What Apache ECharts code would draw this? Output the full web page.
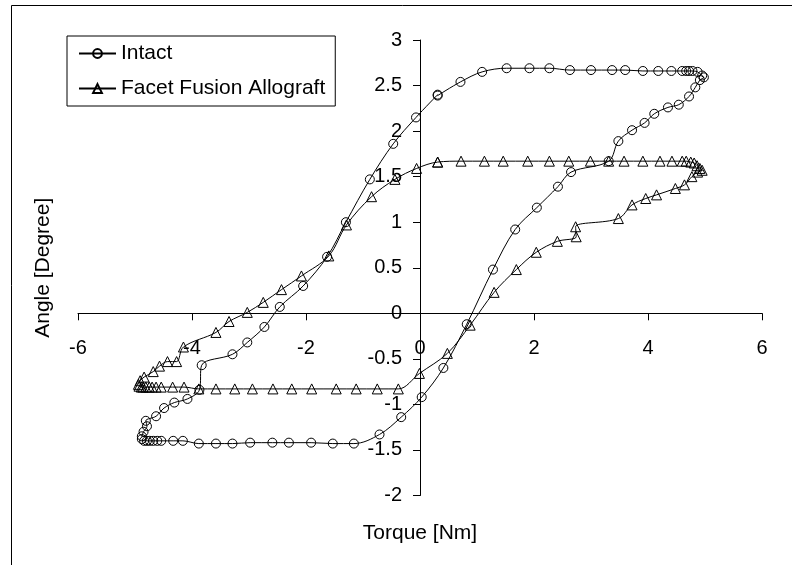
<!DOCTYPE html>
<html>
<head>
<meta charset="utf-8">
<script src="https://cdn.jsdelivr.net/npm/echarts@6/dist/echarts.min.js"></script>
<style>
  html, body { margin: 0; padding: 0; background: #fff; }
  #chart { width: 792px; height: 565px; }
</style>
</head>
<body>
<div id="chart"></div>
<script>
// Intact loop
const intactTorque = [
  -4.88, -4.84, -4.79, -4.74, -4.68, -4.61, -4.54, -4.33, -4.16, -3.88,
  -3.58, -3.29, -2.98, -2.59, -2.30, -1.91, -1.53, -1.16, -0.71, -0.33,
  0.03, 0.41, 0.82, 1.28, 1.67, 2.05, 2.42, 2.65, 3.31, 3.48,
  3.72, 3.94, 4.11, 4.35, 4.54, 4.72, 4.83, 4.91, 4.98, 4.95,
  4.87, 4.78, 4.72, 4.67, 4.60, 4.41, 4.18, 3.91, 3.60, 3.37,
  3.00, 2.63, 2.27, 1.92, 1.52, 1.09, 0.71, 0.31, 0.31, -0.07,
  -0.47, -0.88, -1.30, -1.63, -2.05, -2.46, -2.73, -3.03, -3.29, -3.83,
  -3.87, -4.08, -4.31, -4.49, -4.63, -4.81, -4.79, -4.85, -4.88
];
const intactAngle = [
  -1.38, -1.40, -1.40, -1.40, -1.40, -1.40, -1.40, -1.40, -1.40, -1.43,
  -1.43, -1.43, -1.42, -1.42, -1.42, -1.42, -1.43, -1.43, -1.33, -1.14,
  -0.92, -0.60, -0.12, 0.48, 0.92, 1.16, 1.39, 1.55, 1.67, 1.89,
  2.01, 2.09, 2.19, 2.26, 2.29, 2.38, 2.48, 2.56, 2.59, 2.61,
  2.65, 2.66, 2.66, 2.66, 2.66, 2.66, 2.66, 2.66, 2.67, 2.67,
  2.67, 2.67, 2.69, 2.69, 2.69, 2.65, 2.54, 2.39, 2.40, 2.15,
  1.86, 1.47, 1.00, 0.62, 0.30, 0.07, -0.15, -0.32, -0.45, -0.57,
  -0.84, -0.94, -0.98, -1.04, -1.13, -1.18, -1.24, -1.30, -1.35
];

// Facet Fusion Allograft loop
const fusionTorque = [
  -4.93, -4.89, -4.86, -4.81, -4.75, -4.70, -4.63, -4.54, -4.34, -4.14,
  -3.88, -3.58, -3.25, -2.94, -2.58, -2.25, -1.90, -1.47, -1.12, -0.75,
  -0.38, -0.01, 0.48, 0.88, 1.30, 1.69, 2.04, 2.41, 2.74, 2.73,
  3.48, 3.72, 3.96, 4.15, 4.48, 4.64, 4.77, 4.87, 4.95, 4.91,
  4.86, 4.81, 4.75, 4.67, 4.60, 4.42, 4.21, 3.91, 3.58, 3.31,
  2.99, 2.61, 2.27, 1.89, 1.46, 1.13, 0.72, 0.31, 0.31, -0.06,
  -0.44, -0.85, -1.29, -1.60, -2.08, -2.43, -2.75, -3.03, -3.35, -3.58,
  -4.15, -4.27, -4.43, -4.57, -4.68, -4.84, -4.91, -4.94
];
const fusionAngle = [
  -0.80, -0.81, -0.81, -0.81, -0.81, -0.81, -0.81, -0.81, -0.81, -0.81,
  -0.83, -0.83, -0.83, -0.83, -0.83, -0.83, -0.83, -0.83, -0.83, -0.83,
  -0.83, -0.66, -0.44, -0.13, 0.23, 0.48, 0.67, 0.79, 0.84, 0.95,
  1.04, 1.19, 1.26, 1.30, 1.37, 1.41, 1.50, 1.55, 1.57, 1.59,
  1.62, 1.65, 1.66, 1.67, 1.67, 1.67, 1.67, 1.67, 1.67, 1.67,
  1.67, 1.67, 1.67, 1.67, 1.67, 1.67, 1.67, 1.66, 1.66, 1.59,
  1.47, 1.28, 0.97, 0.63, 0.41, 0.26, 0.12, 0.01, -0.09, -0.21,
  -0.37, -0.53, -0.53, -0.58, -0.64, -0.70, -0.74, -0.78
];

const seriesNames = ["Intact", "Facet Fusion Allograft"];
const xTicks = { min: -6, max: 6, step: 2 };
const yTicks = { min: -2, max: 3, step: 0.5 };

const zip = (xs, ys) => xs.map((x, i) => [x, ys[i]]);

const FONT = "'Liberation Sans', Arial, sans-serif";

// plot box in pixels; the axes cross at (0, 0) inside it
const GRID = { left: 78, right: 30, top: 40, bottom: 69.5 };
const W = 792, H = 565;
const plotW = W - GRID.left - GRID.right;
const plotH = H - GRID.top - GRID.bottom;
// distance from grid edge to the zero line of the other axis
const xAxisShift = plotH * (0 - yTicks.min) / (yTicks.max - yTicks.min);
const yAxisShift = plotW * (0 - xTicks.min) / (xTicks.max - xTicks.min);

const chart = echarts.init(document.getElementById("chart"), null, {
  renderer: "canvas",
});

const lineSeries = (name, data, symbol, size) => ({
  type: "line",
  name: name,
  data: data,
  smooth: 0.35,
  symbol: symbol,
  symbolSize: size,
  showAllSymbol: true,
  lineStyle: { color: "#000", width: 1 },
  itemStyle: { color: "rgba(0,0,0,0)", borderColor: "#000", borderWidth: 1 },
  emphasis: { disabled: true },
});

chart.setOption({
  animation: false,
  backgroundColor: "#fff",
  textStyle: { fontFamily: FONT },
  graphic: [
    {
      type: "rect",
      shape: { x: 11.5, y: 5.5, width: 800, height: 600 },
      style: { fill: "none", stroke: "#000", lineWidth: 1 },
      silent: true,
    },
  ],
  grid: {
    left: GRID.left,
    right: GRID.right,
    top: GRID.top,
    bottom: GRID.bottom,
    containLabel: false,
    outerBoundsMode: "none",
  },
  legend: {
    data: seriesNames,
    orient: "vertical",
    left: 67,
    top: 36,
    itemWidth: 37,
    itemHeight: 11,
    itemGap: 14,
    padding: [7, 10, 7, 11],
    borderColor: "#000",
    borderWidth: 1,
    textStyle: { fontSize: 21, color: "#000", fontFamily: FONT },
  },
  xAxis: {
    type: "value",
    position: "bottom",
    offset: -xAxisShift,
    min: xTicks.min,
    max: xTicks.max,
    interval: xTicks.step,
    name: "Torque [Nm]",
    nameLocation: "middle",
    nameGap: 209,
    nameTextStyle: { fontSize: 21, color: "#000", fontFamily: FONT },
    axisLine: { onZero: false, lineStyle: { color: "#000", width: 1 } },
    axisTick: { show: true, length: 7, lineStyle: { color: "#000" } },
    axisLabel: { fontSize: 20, color: "#000", margin: 25, fontFamily: FONT },
    splitLine: { show: false },
  },
  yAxis: {
    type: "value",
    position: "left",
    offset: -yAxisShift,
    min: yTicks.min,
    max: yTicks.max,
    interval: yTicks.step,
    name: "Angle [Degree]",
    nameLocation: "middle",
    nameGap: 366,
    nameTextStyle: { fontSize: 21, color: "#000", fontFamily: FONT },
    axisLine: { show: true, onZero: false, lineStyle: { color: "#000", width: 1 } },
    axisTick: { show: true, length: 7, lineStyle: { color: "#000" } },
    axisLabel: { fontSize: 20, color: "#000", margin: 18, fontFamily: FONT },
    splitLine: { show: false },
  },
  series: [
    lineSeries(seriesNames[0], zip(intactTorque, intactAngle), "circle", 9),
    lineSeries(seriesNames[1], zip(fusionTorque, fusionAngle), "triangle", 10),
  ],
});
</script>
</body>
</html>
